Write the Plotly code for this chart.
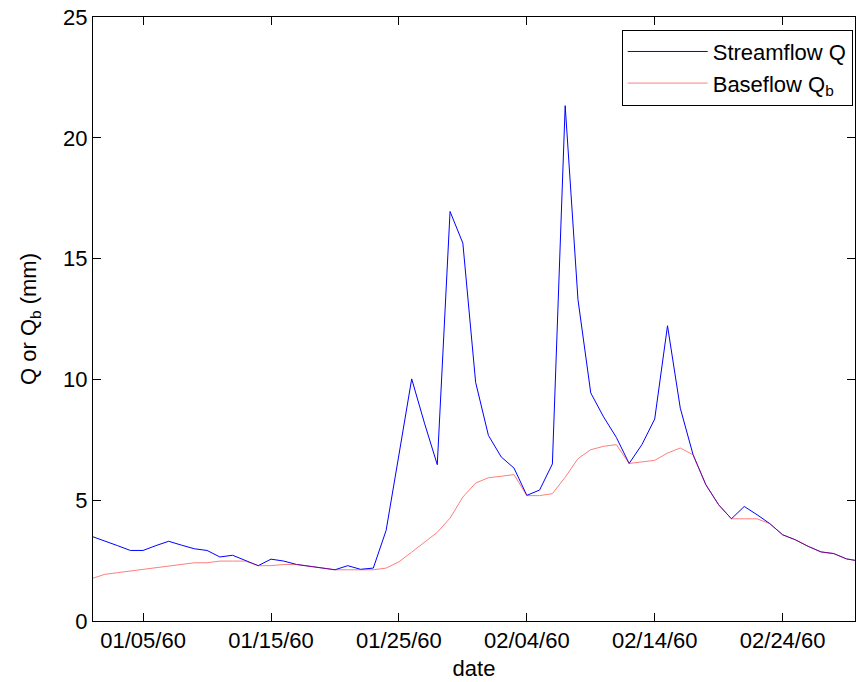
import plotly.graph_objects as go
import pandas as pd

start_date = "1960-01-01"
streamflow_q = [3.50, 3.32, 3.12, 2.92, 2.92, 3.12, 3.30, 3.14, 2.99, 2.92,
                2.65, 2.72, 2.51, 2.29, 2.56, 2.48, 2.34, 2.27, 2.21, 2.12,
                2.29, 2.14, 2.19, 3.75, 6.87, 10.02, 8.19, 6.47, 16.95, 15.64,
                9.88, 7.68, 6.79, 6.33, 5.20, 5.42, 6.50, 21.33, 13.30, 9.44,
                8.45, 7.60, 6.52, 7.30, 8.36, 12.22, 8.81, 6.88, 5.64, 4.81,
                4.23, 4.74, 4.40, 4.03, 3.57, 3.36, 3.09, 2.86, 2.79, 2.57,
                2.48]
baseflow_qb = [1.76, 1.93, 2.00, 2.07, 2.14, 2.19, 2.26, 2.34, 2.41, 2.41,
               2.48, 2.48, 2.48, 2.29, 2.29, 2.34, 2.34, 2.27, 2.21, 2.12,
               2.12, 2.12, 2.12, 2.19, 2.45, 2.85, 3.25, 3.67, 4.26, 5.13,
               5.71, 5.93, 5.99, 6.06, 5.19, 5.19, 5.27, 5.95, 6.72, 7.09,
               7.23, 7.30, 6.52, 6.58, 6.65, 6.95, 7.16, 6.88, 5.64, 4.81,
               4.23, 4.23, 4.23, 4.03, 3.57, 3.36, 3.09, 2.86, 2.79, 2.57,
               2.48]
tick_dates = ["1960-01-05", "1960-01-15", "1960-01-25", "1960-02-04", "1960-02-14", "1960-02-24"]
tick_labels = ["01/05/60", "01/15/60", "01/25/60", "02/04/60", "02/14/60", "02/24/60"]
y_ticks = [0, 5, 10, 15, 20, 25]

dates = pd.date_range(start_date, periods=len(streamflow_q), freq="D")

FONT = "Liberation Sans, Arial, Helvetica, sans-serif"

fig = go.Figure()
fig.add_trace(go.Scatter(x=dates, y=streamflow_q, mode="lines",
                         name="Streamflow Q",
                         line=dict(color="#0000ff", width=1)))
fig.add_trace(go.Scatter(x=dates, y=baseflow_qb, mode="lines",
                         name="Baseflow Q<sub>b</sub>", opacity=0.5,
                         line=dict(color="#ff0000", width=1)))

axis_common = dict(showline=True, linecolor="black", linewidth=1, mirror="allticks",
                   ticks="inside", ticklen=8, tickcolor="black", tickwidth=1,
                   showgrid=False, zeroline=False,
                   tickfont=dict(family=FONT, size=22, color="black"))

fig.update_xaxes(range=["1960-01-01 02:00", "1960-02-29 15:50"],
                 tickvals=tick_dates, ticktext=tick_labels,
                 title=dict(text="date", font=dict(family=FONT, size=22, color="black"), standoff=8),
                 **axis_common)
fig.update_yaxes(range=[0, 25], tickvals=y_ticks,
                 title=dict(text="Q or Q<sub>b</sub> (mm)", font=dict(family=FONT, size=22, color="black"), standoff=20),
                 **axis_common)

fig.update_layout(width=856, height=682,
                  margin=dict(l=93, r=1, t=17, b=61, autoexpand=False),
                  paper_bgcolor="white", plot_bgcolor="white",
                  font=dict(family=FONT, size=22, color="black"),
                  legend=dict(x=0.997, y=0.979, xanchor="right", yanchor="top",
                              bordercolor="black", borderwidth=1, bgcolor="white",
                              font=dict(family=FONT, size=22, color="black"),
                              itemwidth=80, tracegroupgap=0))

fig.write_html("out.html")
